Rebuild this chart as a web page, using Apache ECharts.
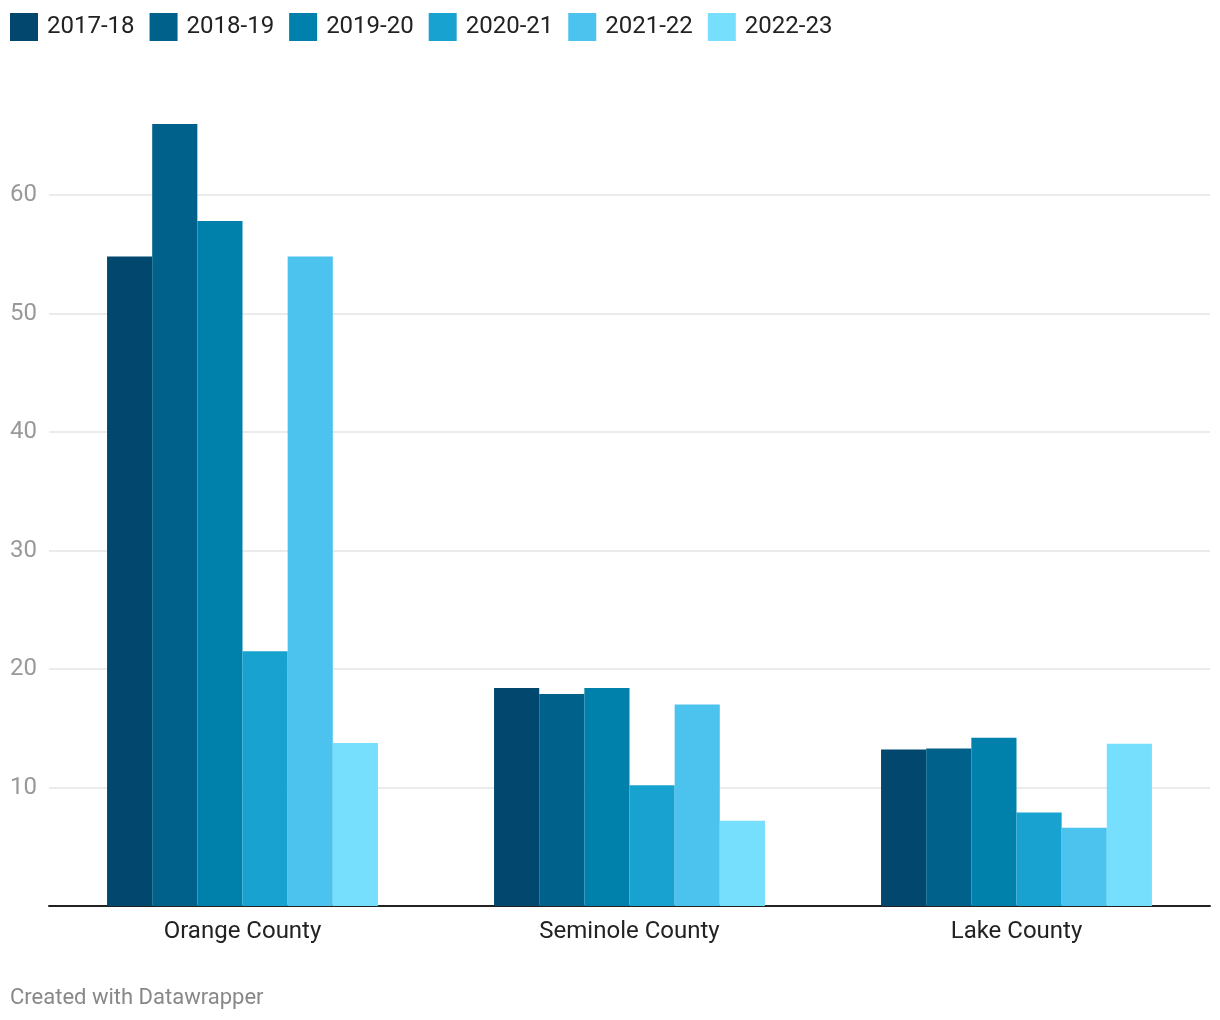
<!DOCTYPE html>
<html>
<head>
<meta charset="utf-8">
<script src="https://cdn.jsdelivr.net/npm/echarts@6/dist/echarts.min.js"></script>
<style>
html,body{margin:0;padding:0;background:#fff;}
#chart{width:1220px;height:1020px;}
</style>
</head>
<body>
<div id="chart"></div>
<script>
const categories = ['Orange County', 'Seminole County', 'Lake County'];
const seriesNames = ['2017-18', '2018-19', '2019-20', '2020-21', '2021-22', '2022-23'];
const v2017 = [54.8, 18.4, 13.2];
const v2018 = [66.0, 17.9, 13.3];
const v2019 = [57.8, 18.4, 14.2];
const v2020 = [21.5, 10.2, 7.9];
const v2021 = [54.8, 17.0, 6.6];
const v2022 = [13.75, 7.2, 13.7];
const colors = ['#01476e', '#00628b', '#0081ab', '#18a2cf', '#4cc2ee', '#76dffe'];

const values = [v2017, v2018, v2019, v2020, v2021, v2022];
const chart = echarts.init(document.getElementById('chart'));
chart.setOption({
  animation: false,
  textStyle: { fontFamily: 'Roboto' },
  color: colors,
  legend: {
    left: 10, top: 13, padding: 0,
    itemWidth: 28, itemHeight: 28, itemGap: 15,
    icon: 'rect',
    textStyle: { fontSize: 24, color: '#222', fontFamily: 'Roboto', padding: [2, 0, 0, 4] },
    data: seriesNames
  },
  graphic: [{
    type: 'text', left: 10, top: 987,
    style: { text: 'Created with Datawrapper', fill: '#888', fontSize: 22, fontFamily: 'Roboto' }
  }],
  grid: { left: 49, right: 10, top: 76.5, bottom: 114, containLabel: false },
  xAxis: {
    type: 'category', data: categories,
    axisLine: { lineStyle: { color: '#222', width: 2 } },
    axisTick: { show: false },
    axisLabel: { fontSize: 24, color: '#222', margin: 14, fontFamily: 'Roboto' }
  },
  yAxis: {
    type: 'value', min: 0, max: 70, interval: 10,
    axisLine: { show: false }, axisTick: { show: false },
    axisLabel: {
      fontSize: 24, color: '#999', align: 'left', margin: 39, fontFamily: 'Roboto',
      formatter: v => (v === 0 || v === 70) ? '' : String(v)
    },
    splitLine: { lineStyle: { color: ['#e5e5e5','#e5e5e5','#e5e5e5','#e5e5e5','#e5e5e5','#e5e5e5','#e5e5e5','rgba(0,0,0,0)'], width: 1.5 } }
  },
  series: seriesNames.map((n, i) => ({
    name: n, type: 'bar', data: values[i],
    barGap: '0%', barCategoryGap: '30%'
  }))
});
</script>
</body>
</html>
